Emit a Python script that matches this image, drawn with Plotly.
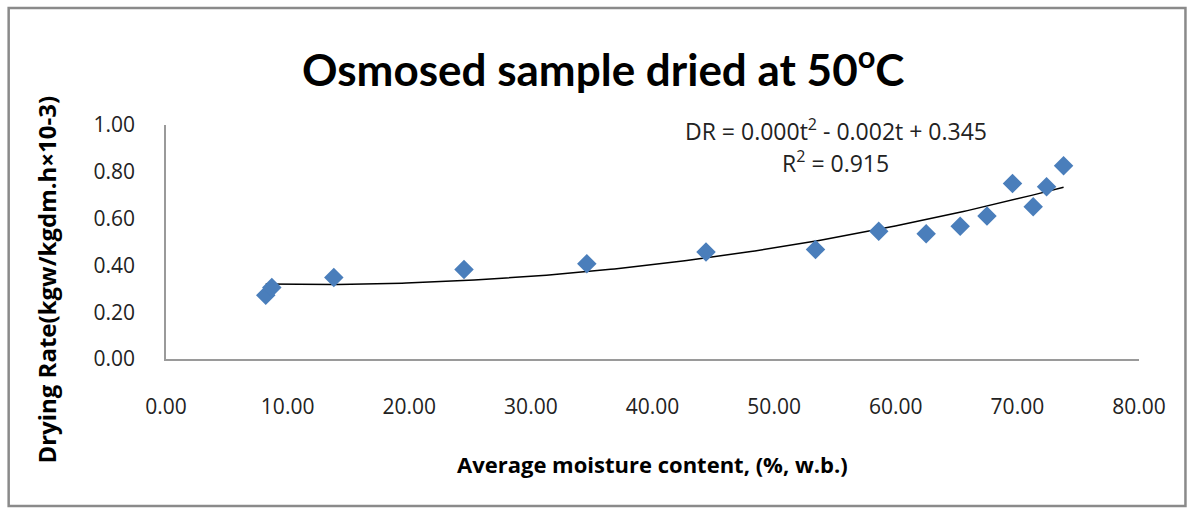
import numpy as np
import plotly.graph_objects as go

# Data
moisture = [8.2, 8.7, 13.8, 24.5, 34.6, 44.4, 53.4, 58.6, 62.5, 65.3, 67.5, 69.6, 71.3, 72.4, 73.8]
drying_rate = [0.272, 0.306, 0.348, 0.383, 0.407, 0.457, 0.468, 0.546, 0.535, 0.567, 0.611, 0.750, 0.651, 0.736, 0.826]
x_ticks = [0, 10, 20, 30, 40, 50, 60, 70, 80]
y_ticks = [0.0, 0.2, 0.4, 0.6, 0.8, 1.0]

title_text = "Osmosed sample dried at 50<sup>o</sup>C"
equation_text = "DR = 0.000t<sup>2</sup> - 0.002t + 0.345"
r2_text = "R<sup>2</sup> = 0.915"
x_title = "<b>Average moisture content, (%, w.b.)</b>"
y_title = "<b>Drying Rate(kgw/kgdm.h×10-3)</b>"

# polynomial trendline (order 2) fitted to the data
coef = np.polyfit(moisture, drying_rate, 2)
tx = np.linspace(min(moisture), max(moisture), 200)
ty = np.polyval(coef, tx)

FONT = "Open Sans"
W, H = 1193, 514
L, R, T, B = 165.5, 1139.5, 125, 359

def px(xp):
    return (xp - L) / (R - L)

def py(yp):
    return (B - yp) / (B - T)

fig = go.Figure()
fig.add_trace(go.Scatter(
    x=tx, y=ty, mode="lines",
    line=dict(color="black", width=1.5), hoverinfo="skip", showlegend=False))
fig.add_trace(go.Scatter(
    x=moisture, y=drying_rate, mode="markers",
    marker=dict(symbol="diamond", size=15, color="#4A7EBB", line=dict(width=0)),
    showlegend=False))

fig.update_layout(
    width=W, height=H,
    margin=dict(l=L, r=W - R, t=T, b=H - B),
    paper_bgcolor="white", plot_bgcolor="white",
    font=dict(family=FONT, color="#222222", size=22),
    showlegend=False,
)
fig.update_xaxes(
    range=[0, 80], tickvals=x_ticks, ticktext=[f"{v:.2f}" for v in x_ticks],
    showgrid=False, zeroline=False, showline=True, linecolor="#9a9a9a", linewidth=1.5,
    ticks="", ticklabelstandoff=28, tickfont=dict(size=21, family=FONT))
fig.update_yaxes(
    range=[0, 1], tickvals=y_ticks, ticktext=[f"{v:.2f}" for v in y_ticks],
    showgrid=False, zeroline=False, showline=True, linecolor="#9a9a9a", linewidth=1.5,
    ticks="", ticklabelstandoff=25, tickfont=dict(size=21, family=FONT))

annotations = [
    dict(text=title_text, x=px(603), y=py(66), xref="paper", yref="paper",
         showarrow=False, xanchor="center", yanchor="middle",
         font=dict(size=44, family="Lato", color="black", weight="bold")),
    dict(text=equation_text, x=px(836), y=py(130), xref="paper", yref="paper",
         showarrow=False, xanchor="center", yanchor="middle",
         font=dict(size=23, family=FONT, color="#222222")),
    dict(text=r2_text, x=px(836), y=py(162), xref="paper", yref="paper",
         showarrow=False, xanchor="center", yanchor="middle",
         font=dict(size=23, family=FONT, color="#222222")),
    dict(text=x_title, x=px(652), y=py(464), xref="paper", yref="paper",
         showarrow=False, xanchor="center", yanchor="middle",
         font=dict(size=22, family=FONT, color="black")),
    dict(text=y_title, x=px(45), y=py(280), xref="paper", yref="paper",
         showarrow=False, xanchor="center", yanchor="middle", textangle=-90,
         font=dict(size=24, family=FONT, color="black")),
]
fig.update_layout(annotations=annotations)

fig.add_shape(type="rect", xref="paper", yref="paper",
              x0=px(8), x1=px(1186), y0=py(506), y1=py(8),
              line=dict(color="#8a8a8a", width=2.5), fillcolor="rgba(0,0,0,0)", layer="below")

fig.write_html("out.html")
